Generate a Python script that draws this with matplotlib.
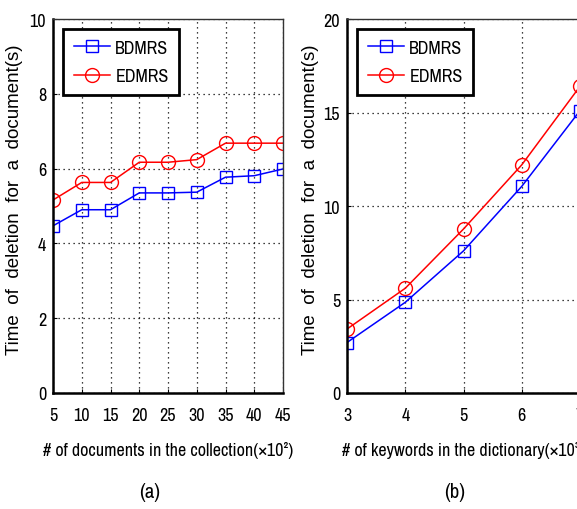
import matplotlib
matplotlib.use("Agg")
import matplotlib.pyplot as plt
from matplotlib import font_manager

# Data
docs_x = [5, 10, 15, 20, 25, 30, 35, 40, 45]
docs_bdmrs = [4.47, 4.90, 4.90, 5.35, 5.35, 5.37, 5.77, 5.81, 5.99]
docs_edmrs = [5.16, 5.63, 5.63, 6.17, 6.17, 6.24, 6.68, 6.68, 6.68]

kw_x = [3, 4, 5, 6, 7]
kw_bdmrs = [2.7, 4.85, 7.6, 11.05, 15.1]
kw_edmrs = [3.42, 5.6, 8.77, 12.2, 16.4]

docs_ticks = [5, 10, 15, 20, 25, 30, 35, 40, 45]
docs_yticks = [0, 2, 4, 6, 8, 10]
kw_ticks = [3, 4, 5, 6, 7]
kw_yticks = [0, 5, 10, 15, 20]

names = {f.name for f in font_manager.fontManager.ttflist}
narrow = "Liberation Sans"
for cand in ["Liberation Sans Narrow", "Arial Narrow", "Archivo Narrow",
             "Roboto Condensed", "PT Sans Narrow", "Pragati Narrow"]:
    if cand in names:
        narrow = cand
        break

W, H = 577, 510
fig = plt.figure(figsize=(W / 100, H / 100), dpi=100)

def box(l, t, r, b):
    return [l / W, 1 - b / H, (r - l) / W, (b - t) / H]

ax1 = fig.add_axes(box(53, 20, 283, 394))
ax2 = fig.add_axes(box(347, 20, 580, 394))

ylabel = "Time  of  deletion  for  a  document(s)"

def style(ax, xs, b, e, xticks, yticks, xlabel, ylx):
    ax.plot(xs, b, color="blue", marker="s", markersize=8, markerfacecolor="none",
            markeredgewidth=1.0, linewidth=1.1, label="BDMRS")
    ax.plot(xs, e, color="red", marker="o", markersize=10, markerfacecolor="none",
            markeredgewidth=1.0, linewidth=1.1, label="EDMRS")
    ax.set_xlim(xticks[0], xticks[-1])
    ax.set_ylim(yticks[0], yticks[-1])
    ax.set_xticks(xticks)
    ax.set_yticks(yticks)
    ax.grid(True, color="black", linestyle=(0, (1, 3)), linewidth=0.9)
    ax.tick_params(direction="in", length=3, labelsize=13)
    ax.tick_params(axis="x", pad=10)
    ax.tick_params(axis="y", pad=5)
    for lab in ax.get_xticklabels() + ax.get_yticklabels():
        lab.set_fontfamily(narrow)
    for s in ax.spines.values():
        s.set_linewidth(1.0)
        s.set_color("#333333")
    for side in ("left", "bottom"):
        ax.spines[side].set_linewidth(1.8)
        ax.spines[side].set_color("black")
    ax.set_xlabel(xlabel, fontsize=13, family=narrow, labelpad=13)
    ax.set_ylabel(ylabel, fontsize=13.5, family="Liberation Sans")
    ax.yaxis.set_label_coords(ylx, 0.52)
    leg = ax.legend(loc="upper left", prop={"family": narrow, "size": 13},
                    fancybox=False, framealpha=1, edgecolor="black",
                    borderaxespad=0.55, handlelength=2.0, borderpad=0.6,
                    labelspacing=0.7, numpoints=1, handletextpad=0.3)
    leg.get_frame().set_linewidth(2.0)

style(ax1, docs_x, docs_bdmrs, docs_edmrs, docs_ticks, docs_yticks,
      "# of documents in the collection(×10²)", -0.13)
style(ax2, kw_x, kw_bdmrs, kw_edmrs, kw_ticks, kw_yticks,
      "# of keywords in the dictionary(×10³)", -0.122)

fig.text(150 / W, 1 - 493 / H, "(a)", fontsize=15, family=narrow, ha="center", va="center")
fig.text(455 / W, 1 - 493 / H, "(b)", fontsize=15, family=narrow, ha="center", va="center")

fig.savefig("out.png", dpi=100)
